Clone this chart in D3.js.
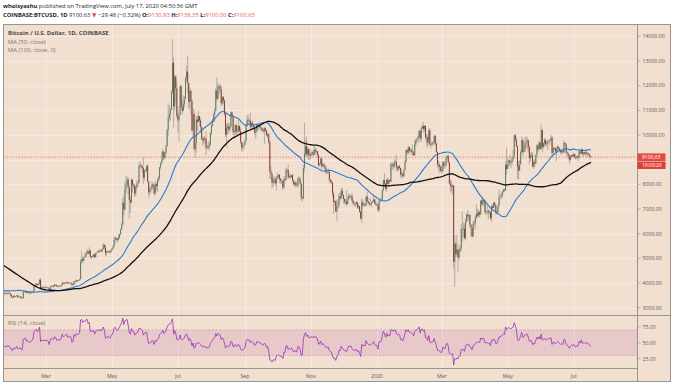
<!DOCTYPE html>
<html>
<head>
<meta charset="utf-8">
<script src="https://cdn.jsdelivr.net/npm/d3@7"></script>
<style>
  body { margin: 0; background: #fff; }
  svg { display: block; }
  text { font-family: 'Open Sans', 'DejaVu Sans', sans-serif; }
</style>
</head>
<body>
<script>
// daily closes, COINBASE BTCUSD, first value is 2018-10-13 (earlier days only feed the MAs and RSI)
const closesStart = '2018-10-13';
const closes = [
  // 2018-10 (13..31)
  6290, 6290, 6600, 6620, 6580, 6480, 6440, 6460, 6480, 6460, 6450, 6460, 6430, 6440, 6450, 6450, 6270, 6270, 6320,
  // 2018-11
  6350, 6380, 6350, 6460, 6420, 6460, 6530, 6420, 6350, 6380, 6390, 6370, 6330, 5700, 5620, 5560, 5550, 5620, 4800, 4450,
  4580, 4360, 4320, 3900, 4000, 3770, 3830, 4270, 4270, 4010,
  // 2018-12
  4200, 4140, 3850, 3950, 3760, 3500, 3400, 3410, 3570, 3450, 3400, 3490, 3260, 3200, 3190, 3240, 3550, 3690, 3780, 4130,
  3870, 4000, 3970, 4060, 3780, 3820, 3600, 3900, 3830, 3910, 3740,
  // 2019-01
  3830, 3900, 3780, 3810, 3790, 4060, 4010, 4000, 4010, 3630, 3630, 3610, 3510, 3660, 3580, 3620, 3660, 3620, 3710, 3540,
  3560, 3590, 3560, 3590, 3580, 3580, 3530, 3440, 3410, 3480, 3440,
  // 2019-02
  3460, 3500, 3420, 3430, 3450, 3390, 3380, 3640, 3650, 3680, 3600, 3620, 3600, 3580, 3600, 3620, 3660, 3890, 3910, 3970,
  3930, 3970, 4130, 3760, 3830, 3810, 3820, 3810,
  // 2019-03
  3820, 3820, 3790, 3710, 3860, 3870, 3880, 3860, 3940, 3920, 3860, 3880, 3870, 3870, 3910, 4010, 3970, 3980, 4010, 4040,
  3990, 4000, 4010, 4000, 3920, 3940, 4080, 4050, 4120, 4110, 4110,
  // 2019-04
  4150, 4880, 4970, 4900, 5040, 5050, 5200, 5290, 5190, 5320, 5050, 5080, 5080, 5160, 5040, 5210, 5240, 5290, 5280, 5330,
  5290, 5380, 5540, 5450, 5210, 5260, 5290, 5280, 5240, 5330,
  // 2019-05
  5390, 5480, 5750, 5830, 5770, 5740, 5830, 5970, 6170, 6370, 7250, 6980, 7820, 7990, 8200, 7880, 7360, 7260, 8190, 7980,
  7950, 7630, 7880, 7990, 8060, 8740, 8780, 8720, 8660, 8270, 8550,
  // 2019-06
  8550, 8740, 8120, 7670, 7790, 7800, 8000, 7930, 7630, 8020, 7920, 8170, 8230, 8690, 8850, 8980, 9330, 9080, 9270, 9530,
  10200, 10690, 10850, 11010, 11750, 12930, 11150, 12370, 11890, 10770,
  // 2019-07
  10590, 10820, 11980, 11150, 10980, 11250, 11460, 12300, 12570, 12100, 11340, 11790, 11370, 10190, 10850, 9430, 9680, 10630, 10530, 10760,
  10590, 10320, 9850, 9770, 9880, 9850, 9480, 9530, 9500, 9590, 10080,
  // 2019-08
  10400, 10530, 10820, 10980, 11800, 11470, 11980, 11980, 11850, 11280, 11550, 11390, 10860, 10020, 10300, 10360, 10220, 10320, 10920, 10760,
  10130, 10120, 10400, 10140, 10140, 10360, 10170, 9720, 9490, 9580, 9600,
  // 2019-09
  9760, 10390, 10620, 10580, 10580, 10320, 10480, 10400, 10320, 10100, 10160, 10410, 10360, 10350, 10300, 10260, 10190, 10160, 10270, 10180,
  9990, 10030, 9700, 8530, 8430, 8060, 8190, 8200, 8040, 8300,
  // 2019-10
  8330, 8390, 8230, 8150, 8140, 7870, 8210, 8180, 8590, 8580, 8280, 8330, 8300, 8370, 8160, 8000, 8080, 7960, 7960, 8230,
  8220, 8030, 7470, 7430, 8660, 9240, 9550, 9220, 9430, 9170, 9150,
  // 2019-11
  9250, 9300, 9200, 9400, 9320, 9340, 9200, 8780, 8810, 9040, 8720, 8810, 8760, 8630, 8470, 8500, 8510, 8190, 8120, 8080,
  7620, 7280, 7320, 6900, 7130, 7170, 7520, 7430, 7740, 7570,
  // 2019-12
  7410, 7300, 7300, 7200, 7390, 7540, 7510, 7530, 7340, 7230, 7210, 7200, 7260, 7070, 7110, 6890, 6620, 7280, 7150, 7190,
  7140, 7510, 7320, 7250, 7200, 7200, 7250, 7300, 7390, 7220, 7170,
  // 2020-01
  7180, 6950, 7340, 7350, 7360, 7760, 8160, 8040, 7820, 8190, 8020, 8180, 8110, 8820, 8810, 8720, 8900, 8910, 8700, 8630,
  8730, 8660, 8390, 8430, 8330, 8590, 8910, 9390, 9290, 9510, 9350,
  // 2020-02
  9380, 9330, 9290, 9180, 9620, 9770, 9810, 9910, 10170, 9860, 10270, 10360, 10240, 10370, 9900, 9920, 9700, 10190, 9600, 9610,
  9690, 9670, 9970, 9660, 9310, 8790, 8790, 8710, 8530,
  // 2020-03
  8530, 8910, 8760, 8760, 9070, 9150, 8900, 8040, 7940, 7900, 7950, 4860, 5600, 5170, 5360, 5030, 5330, 5410, 6190, 6200,
  6190, 5820, 6490, 6770, 6700, 6760, 6370, 6250, 5880, 6400, 6420,
  // 2020-04
  6650, 6810, 6740, 6870, 6780, 7340, 7200, 7370, 7300, 6870, 6890, 6920, 6860, 6860, 6630, 7110, 7040, 7260, 7130, 6840,
  6860, 7140, 7480, 7510, 7540, 7700, 7790, 7760, 8790, 8620,
  // 2020-05
  8830, 8970, 8900, 8890, 9030, 9150, 9990, 9810, 9540, 8720, 8560, 8810, 9310, 9790, 9310, 9380, 9670, 9730, 9780, 9510,
  9060, 9170, 9180, 8720, 8900, 8840, 9200, 9580, 9420, 9700, 9450,
  // 2020-06
  10200, 9520, 9670, 9790, 9620, 9670, 9750, 9780, 9780, 9890, 9270, 9470, 9480, 9330, 9430, 9520, 9460, 9380, 9300, 9360,
  9290, 9680, 9620, 9290, 9250, 9160, 9000, 9120, 9190, 9140,
  // 2020-07 (1..17)
  9230, 9090, 9060, 9130, 9080, 9340, 9250, 9430, 9230, 9290, 9240, 9300, 9240, 9250, 9190, 9130, 9100.63
];

// daily highs / lows of the visible candles, first value is 2019-01-18
const wickStart = '2019-01-18';
const highs = [
  // 2019-01 (18..31)
  3680, 3760, 3740, 3590, 3640, 3610, 3620, 3600, 3680, 3600, 3540, 3440, 3500, 3490,
  // 2019-02
  3480, 3520, 3500, 3450, 3470, 3460, 3400, 3700, 3680, 3690, 3690, 3630, 3650, 3620, 3640, 3640, 3680, 3920, 4000, 3990,
  4000, 3990, 4160, 4200, 3850, 3870, 3830, 3890,
  // 2019-03
  3860, 3840, 3830, 3800, 3880, 3910, 3910, 3920, 3960, 3950, 3930, 3890, 3900, 3930, 3920, 4050, 4020, 4040, 4020, 4060,
  4060, 4010, 4030, 4020, 4010, 3960, 4090, 4080, 4140, 4130, 4120,
  // 2019-04
  4170, 4960, 5300, 5080, 5060, 5210, 5240, 5380, 5290, 5450, 5330, 5100, 5120, 5170, 5190, 5240, 5260, 5320, 5350, 5360,
  5340, 5420, 5620, 5580, 5550, 5310, 5320, 5300, 5310, 5340,
  // 2019-05
  5420, 5530, 5890, 5880, 5840, 5840, 5990, 6000, 6200, 6450, 7450, 7550, 8100, 8320, 8330, 8280, 7950, 7500, 8260, 8100,
  8050, 8010, 7950, 8160, 8160, 8880, 8950, 8820, 8730, 9100, 8600,
  // 2019-06
  8620, 8790, 8820, 8130, 7930, 7890, 8120, 8050, 7970, 8120, 8040, 8250, 8330, 8710, 8900, 9340, 9430, 9330, 9300, 9600,
  10250, 11230, 11220, 11100, 11800, 13880, 13150, 12450, 12220, 12180,
  // 2019-07
  11170, 10900, 11990, 12060, 11430, 11610, 11580, 12360, 12800, 13200, 12100, 11920, 11830, 11450, 11080, 11020, 9980, 10760, 10800, 10990,
  10760, 10680, 10330, 9910, 9960, 9940, 10170, 9600, 9720, 9730, 10120,
  // 2019-08
  10470, 10670, 10900, 11090, 11900, 12330, 12090, 12070, 12050, 11980, 11580, 11540, 11450, 10900, 10450, 10500, 10480, 10480, 10950, 10960,
  10790, 10250, 10450, 10450, 10360, 10620, 10400, 10300, 9720, 9660, 9700,
  // 2019-09
  9810, 10460, 10790, 10820, 10640, 10900, 10550, 10580, 10470, 10390, 10270, 10450, 10450, 10420, 10360, 10380, 10290, 10290, 10330, 10300,
  10200, 10080, 10070, 9800, 8720, 8480, 8280, 8330, 8230, 8340,
  // 2019-10
  8480, 8400, 8400, 8250, 8180, 8170, 8320, 8330, 8670, 8650, 8800, 8440, 8420, 8400, 8420, 8170, 8120, 8110, 8100, 8300,
  8330, 8300, 8050, 7500, 8800, 10500, 9800, 9940, 9520, 9460, 9440,
  // 2019-11
  9280, 9380, 9380, 9600, 9480, 9460, 9370, 9220, 8880, 9120, 9070, 8870, 8850, 8800, 8690, 8530, 8640, 8520, 8220, 8200,
  8100, 7700, 7350, 7370, 7380, 7350, 7650, 7630, 7850, 7860,
  // 2019-12
  7580, 7430, 7410, 7750, 7490, 7620, 7590, 7570, 7640, 7410, 7270, 7300, 7320, 7310, 7190, 7140, 6940, 7440, 7380, 7230,
  7200, 7520, 7700, 7430, 7270, 7440, 7290, 7360, 7520, 7410, 7330,
  // 2020-01
  7250, 7210, 7400, 7400, 7500, 7780, 8210, 8460, 8050, 8200, 8290, 8190, 8200, 8880, 8900, 8860, 9000, 9000, 9190, 8740,
  8770, 8800, 8670, 8520, 8440, 8600, 8990, 9420, 9410, 9570, 9530,
  // 2020-02
  9460, 9470, 9610, 9350, 9780, 9860, 9880, 9960, 10170, 10180, 10330, 10420, 10520, 10400, 10380, 10050, 9980, 10260, 10280, 9660,
  9750, 9700, 9980, 9990, 9680, 9330, 8980, 8890, 8750,
  // 2020-03
  8770, 8950, 8930, 8840, 9140, 9190, 9200, 8900, 8190, 8150, 7990, 7980, 5950, 5670, 5960, 5380, 5560, 5450, 6380, 6900,
  6450, 6410, 6600, 6840, 6960, 6790, 6780, 6380, 6270, 6530, 6530,
  // 2020-04
  6750, 7200, 7000, 6990, 6930, 7360, 7470, 7430, 7380, 7320, 6940, 7200, 6990, 6970, 6940, 7190, 7150, 7300, 7260, 7200,
  6960, 7160, 7770, 7620, 7630, 7730, 7800, 7820, 8930, 9480,
  // 2020-05
  9070, 9000, 9190, 8950, 9100, 9400, 9990, 10050, 9920, 9580, 8950, 8980, 9400, 9940, 9850, 9600, 9890, 9950, 9900, 9830,
  9570, 9270, 9310, 9300, 8970, 9020, 9220, 9630, 9610, 9740, 9700,
  // 2020-06
  10430, 10230, 9690, 9880, 9850, 9730, 9800, 9800, 9830, 9990, 9960, 9560, 9500, 9490, 9500, 9580, 9560, 9480, 9400, 9400,
  9420, 9780, 9710, 9650, 9330, 9290, 9190, 9190, 9210, 9200,
  // 2020-07
  9290, 9250, 9130, 9190, 9140, 9360, 9360, 9460, 9440, 9310, 9300, 9350, 9350, 9280, 9290, 9210, 9138.35
];
const lows = [
  // 2019-01 (18..31)
  3590, 3610, 3520, 3500, 3520, 3540, 3540, 3550, 3560, 3480, 3400, 3370, 3400, 3430,
  // 2019-02
  3430, 3440, 3400, 3400, 3420, 3370, 3360, 3380, 3620, 3600, 3590, 3580, 3580, 3570, 3560, 3600, 3610, 3640, 3850, 3880,
  3880, 3900, 3940, 3700, 3740, 3760, 3700, 3770,
  // 2019-03
  3790, 3800, 3770, 3680, 3700, 3840, 3850, 3820, 3840, 3880, 3840, 3830, 3850, 3840, 3860, 3910, 3950, 3950, 3960, 3990,
  3960, 3970, 3980, 3980, 3860, 3900, 3930, 4020, 4030, 4060, 4090,
  // 2019-04
  4090, 4150, 4790, 4800, 4880, 5020, 5050, 5170, 5160, 5150, 5020, 4960, 5030, 5040, 5020, 5040, 5200, 5220, 5230, 5260,
  5230, 5270, 5370, 5350, 5080, 5120, 5230, 5230, 5200, 5230,
  // 2019-05
  5310, 5380, 5470, 5600, 5720, 5630, 5720, 5800, 5960, 6160, 6350, 6750, 6930, 7640, 7950, 7600, 6600, 6850, 7240, 7650,
  7820, 7500, 7520, 7800, 7900, 8050, 8640, 8630, 8450, 8000, 8140,
  // 2019-06
  8500, 8510, 8070, 7460, 7570, 7680, 7800, 7830, 7560, 7540, 7760, 7680, 8080, 8190, 8600, 8830, 9000, 8970, 9020, 9200,
  9530, 9950, 10560, 10580, 11000, 11680, 10300, 11000, 11300, 10700,
  // 2019-07
  10120, 9700, 10810, 11060, 10830, 10970, 11130, 11470, 12140, 11670, 11050, 11100, 10820, 10120, 9880, 9360, 9070, 9280, 10150, 10520,
  10350, 10080, 9800, 9550, 9620, 9670, 9190, 9400, 9420, 9380, 9600,
  // 2019-08
  9990, 10330, 10520, 10550, 10970, 11360, 11420, 11640, 11720, 11170, 11200, 11240, 10780, 9920, 9500, 10000, 10060, 10140, 10300, 10630,
  10000, 9850, 10000, 9940, 10060, 10150, 10060, 9630, 9340, 9340, 9420,
  // 2019-09
  9570, 9750, 10340, 10400, 10460, 10200, 10310, 10300, 10200, 9990, 9850, 10100, 10180, 10260, 10220, 10130, 10140, 10090, 9650, 10100,
  9940, 9880, 9620, 8220, 8230, 7840, 7900, 8010, 7950, 7750,
  // 2019-10
  8200, 8200, 8050, 8010, 8040, 7800, 7780, 8080, 8140, 8460, 8230, 8240, 8240, 8250, 8100, 7930, 7930, 7870, 7900, 7880,
  8180, 8000, 7350, 7300, 7410, 8520, 9100, 9140, 9100, 8980, 9000,
  // 2019-11
  9040, 9180, 9110, 9160, 9200, 9250, 9060, 8700, 8730, 8800, 8620, 8700, 8700, 8560, 8420, 8400, 8460, 8050, 8040, 8000,
  7470, 6800, 7150, 6870, 6520, 7010, 7040, 7350, 7420, 7530,
  // 2019-12
  7220, 7180, 7210, 7100, 7180, 7380, 7470, 7400, 7280, 7160, 7120, 7070, 7230, 7000, 7000, 6850, 6560, 6430, 7070, 7120,
  7090, 7140, 7260, 7180, 7120, 7140, 7090, 7250, 7300, 7200, 7130,
  // 2020-01
  7140, 6900, 6880, 7260, 7300, 7340, 7720, 7880, 7750, 7700, 8000, 7960, 8060, 8100, 8600, 8570, 8650, 8800, 8540, 8500,
  8560, 8580, 8290, 8240, 8270, 8300, 8560, 8880, 9220, 9210, 9250,
  // 2020-02
  9300, 9200, 9170, 9150, 9160, 9550, 9710, 9680, 9870, 9730, 9730, 10260, 10100, 10120, 9770, 9540, 9490, 9640, 9580, 9450,
  9560, 9580, 9660, 9550, 9270, 8680, 8550, 8460, 8520,
  // 2020-03
  8420, 8500, 8640, 8650, 8760, 9000, 8850, 8000, 7650, 7730, 7580, 4600, 3850, 5050, 5100, 4450, 4930, 5260, 5260, 5700,
  5850, 5780, 5720, 6450, 6520, 6530, 6250, 5880, 5860, 5880, 6320,
  // 2020-04
  6170, 6580, 6660, 6670, 6670, 6780, 7120, 7130, 7110, 6760, 6780, 6780, 6580, 6780, 6570, 6480, 6950, 7030, 7070, 6780,
  6780, 6830, 7100, 7420, 7420, 7460, 7670, 7700, 7730, 8400,
  // 2020-05
  8620, 8750, 8720, 8650, 8770, 8940, 9050, 9700, 9520, 8200, 8200, 8550, 8800, 9250, 9150, 9290, 9310, 9480, 9420, 9280,
  8810, 8940, 9070, 8690, 8630, 8700, 8810, 9100, 9300, 9350, 9400,
  // 2020-06
  9420, 9300, 9430, 9520, 9580, 9530, 9390, 9650, 9580, 9730, 9090, 9220, 9380, 9250, 8920, 9350, 9360, 9290, 9210, 9210,
  9270, 9280, 9580, 9230, 9100, 9040, 8850, 8950, 9080, 9090,
  // 2020-07
  9090, 9050, 9000, 9050, 8930, 9060, 9210, 9240, 9150, 9130, 9200, 9140, 9200, 9090, 9160, 9010, 9100
];

const lastPrice = 9100.63;
const priceTicks = [3000, 4000, 5000, 6000, 7000, 8000, 9000, 10000, 11000, 12000, 13000, 14000];
const rsiTicks = [25, 50, 75];
const monthTicks = ['2019-03-01', '2019-05-01', '2019-07-01', '2019-09-01', '2019-11-01',
                    '2020-01-01', '2020-03-01', '2020-05-01', '2020-07-01'];
const monthLabels = ['Mar', 'May', 'Jul', 'Sep', 'Nov', '2020', 'Mar', 'May', 'Jul'];

const W = 673, H = 385;
const L = 3.5, R = 637.5, AX = 670.5;      // plot left, plot right, axis right
const T = 24.5, MID = 315.5, RB = 368.5, B = 381.5;

const bg = '#f1dfcf', grid = '#f6e9dd', border = '#9a9590';
const upCol = '#4e7f57', downCol = '#86302c', wickCol = '#a69d96';

const parse = d3.utcParse('%Y-%m-%d');
const t0 = parse(closesStart);
const days = closes.map((_, i) => d3.utcDay.offset(t0, i));

const x = d3.scaleUtc()
  .domain([parse('2019-03-01'), parse('2020-07-01')])
  .range([46, 573.7]);
const y = d3.scaleLinear().domain([3000, 14000]).range([307.7, 36.3]);
const yr = d3.scaleLinear().domain([25, 75]).range([358.7, 326.7]);

function sma(values, n) {
  return values.map((_, i) => (i < n - 1 ? null : d3.mean(values.slice(i - n + 1, i + 1))));
}

// Wilder RSI
function rsi(values, n) {
  const out = values.map(() => null);
  let up = 0, dn = 0;
  for (let i = 1; i < values.length; i++) {
    const ch = values[i] - values[i - 1];
    const g = Math.max(ch, 0), l = Math.max(-ch, 0);
    if (i <= n) {
      up += g / n; dn += l / n;
      if (i < n) continue;
    } else {
      up = (up * (n - 1) + g) / n;
      dn = (dn * (n - 1) + l) / n;
    }
    out[i] = dn === 0 ? 100 : 100 - 100 / (1 + up / dn);
  }
  return out;
}

const ma50 = sma(closes, 50);
const ma100 = sma(closes, 100);
const rsi14 = rsi(closes, 14);

const w0 = d3.utcDay.count(t0, parse(wickStart));
const candles = highs.map((h, j) => {
  const i = w0 + j;
  const o = closes[i - 1], c = closes[i];
  return { date: days[i], o, c, h: Math.max(h, o, c), l: Math.min(lows[j], o, c) };
});

const svg = d3.select('body').append('svg').attr('width', W).attr('height', H);

svg.append('rect').attr('width', W).attr('height', H).attr('fill', '#fff');
svg.append('rect').attr('x', L).attr('y', T).attr('width', AX - L).attr('height', B - T).attr('fill', bg);

const defs = svg.append('defs');
defs.append('clipPath').attr('id', 'clipMain')
  .append('rect').attr('x', L).attr('y', T).attr('width', R - L).attr('height', MID - T);
defs.append('clipPath').attr('id', 'clipRsi')
  .append('rect').attr('x', L).attr('y', MID).attr('width', R - L).attr('height', RB - MID);

// grid
const gGrid = svg.append('g').attr('stroke', grid).attr('stroke-width', 1);
gGrid.selectAll('line.v').data(monthTicks).join('line')
  .attr('x1', (d) => Math.round(x(parse(d))) + 0.5)
  .attr('x2', (d) => Math.round(x(parse(d))) + 0.5)
  .attr('y1', T).attr('y2', RB);
gGrid.selectAll('line.h').data(priceTicks).join('line')
  .attr('x1', L).attr('x2', R)
  .attr('y1', (d) => Math.round(y(d)) + 0.5)
  .attr('y2', (d) => Math.round(y(d)) + 0.5);

// RSI band
const gRsi = svg.append('g').attr('clip-path', 'url(#clipRsi)');
gRsi.append('rect')
  .attr('x', L).attr('width', R - L)
  .attr('y', yr(70)).attr('height', yr(30) - yr(70))
  .attr('fill', '#c77dbb').attr('fill-opacity', 0.22);
gRsi.selectAll('line.band').data([70, 30]).join('line')
  .attr('x1', L).attr('x2', R)
  .attr('y1', (d) => yr(d)).attr('y2', (d) => yr(d))
  .attr('stroke', '#b88fb6').attr('stroke-width', 0.6).attr('stroke-dasharray', '2,2');
gRsi.append('line')
  .attr('x1', L).attr('x2', R).attr('y1', yr(50)).attr('y2', yr(50))
  .attr('stroke', '#e6c4d8').attr('stroke-width', 0.6);

const rsiRows = days.map((d, i) => ({ d, v: rsi14[i] })).filter((r) => r.v !== null);
gRsi.append('path')
  .datum(rsiRows)
  .attr('fill', 'none').attr('stroke', '#9a30b8').attr('stroke-width', 0.8)
  .attr('d', d3.line().x((r) => x(r.d)).y((r) => yr(r.v)));

// main pane
const gMain = svg.append('g').attr('clip-path', 'url(#clipMain)');

gMain.append('line')
  .attr('x1', L).attr('x2', R)
  .attr('y1', y(lastPrice)).attr('y2', y(lastPrice))
  .attr('stroke', '#e0685f').attr('stroke-width', 0.7).attr('stroke-dasharray', '1.5,1.5');

gMain.selectAll('line.wick').data(candles).join('line')
  .attr('x1', (d) => x(d.date)).attr('x2', (d) => x(d.date))
  .attr('y1', (d) => y(d.h)).attr('y2', (d) => y(d.l))
  .attr('stroke', wickCol).attr('stroke-width', 0.8);

gMain.selectAll('rect.body').data(candles).join('rect')
  .attr('x', (d) => x(d.date) - 0.45)
  .attr('width', 0.9)
  .attr('y', (d) => y(Math.max(d.o, d.c)))
  .attr('height', (d) => Math.max(0.6, Math.abs(y(d.o) - y(d.c))))
  .attr('fill', (d) => (d.c >= d.o ? upCol : downCol));

const maLine = (arr) => d3.line()
  .defined((_, i) => arr[i] !== null)
  .x((_, i) => x(days[i]))
  .y((_, i) => y(arr[i]));

gMain.append('path').datum(closes)
  .attr('fill', 'none').attr('stroke', '#2a7bd0').attr('stroke-width', 1.1)
  .attr('d', maLine(ma50));
gMain.append('path').datum(closes)
  .attr('fill', 'none').attr('stroke', '#111').attr('stroke-width', 1.3)
  .attr('d', maLine(ma100));

// frame and separators
const gFrame = svg.append('g').attr('stroke', border).attr('stroke-width', 1).attr('fill', 'none');
gFrame.append('rect').attr('x', L).attr('y', T).attr('width', AX - L).attr('height', B - T);
gFrame.append('line').attr('x1', R).attr('x2', R).attr('y1', T).attr('y2', B);
gFrame.append('line').attr('x1', L).attr('x2', AX).attr('y1', MID).attr('y2', MID);
gFrame.append('line').attr('x1', L).attr('x2', R).attr('y1', RB).attr('y2', RB);

// right axis (the tick under the last-price tag stays hidden, as on the site)
const axisText = '#5a5a5a';
const tagTop = y(lastPrice) - 4, tagBottom = y(lastPrice) + 12;
const shownTicks = priceTicks.filter((d) => y(d) < tagTop - 2 || y(d) > tagBottom + 2);
const gY = svg.append('g');
gY.selectAll('line').data(priceTicks).join('line')
  .attr('x1', R).attr('x2', R + 3)
  .attr('y1', (d) => y(d)).attr('y2', (d) => y(d))
  .attr('stroke', border).attr('stroke-width', 0.6);
gY.selectAll('text').data(shownTicks).join('text')
  .attr('x', R + 5).attr('y', (d) => y(d)).attr('dy', '0.35em')
  .attr('font-size', 5.2).attr('fill', axisText)
  .text((d) => d3.format('.2f')(d));

const gYr = svg.append('g');
gYr.selectAll('line').data(rsiTicks).join('line')
  .attr('x1', R).attr('x2', R + 3)
  .attr('y1', (d) => yr(d)).attr('y2', (d) => yr(d))
  .attr('stroke', border).attr('stroke-width', 0.6);
gYr.selectAll('text').data(rsiTicks).join('text')
  .attr('x', R + 5).attr('y', (d) => yr(d)).attr('dy', '0.35em')
  .attr('font-size', 5.2).attr('fill', axisText)
  .text((d) => d3.format('.2f')(d));

// bottom axis
svg.append('g').selectAll('text').data(monthTicks).join('text')
  .attr('x', (d) => x(parse(d))).attr('y', 376).attr('dy', '0.35em')
  .attr('text-anchor', 'middle').attr('font-size', 5.2).attr('fill', axisText)
  .text((_, i) => monthLabels[i]);

// last price tag
const tag = svg.append('g');
tag.append('rect').attr('x', R).attr('y', y(lastPrice) - 3.8).attr('width', 28).attr('height', 7.6).attr('fill', '#e5493f');
tag.append('rect').attr('x', R).attr('y', y(lastPrice) + 4.4).attr('width', 28).attr('height', 7.4).attr('fill', '#dc3f36');
tag.append('text').attr('x', R + 4.5).attr('y', y(lastPrice)).attr('dy', '0.35em')
  .attr('font-size', 5).attr('fill', '#fff').text(d3.format('.2f')(lastPrice));
tag.append('text').attr('x', R + 4.5).attr('y', y(lastPrice) + 8.1).attr('dy', '0.35em')
  .attr('font-size', 5).attr('fill', '#fff').text('19:09:26');

// header
const h1 = svg.append('text').attr('x', 3).attr('y', 8).attr('font-size', 5.8).attr('fill', '#222');
h1.append('tspan').attr('font-weight', 'bold').text('whoisyashu');
h1.append('tspan').text(' published on TradingView.com, July 17, 2020 04:50:36 GMT');

const red = '#e8504a';
const h2 = svg.append('text').attr('x', 3).attr('y', 17).attr('font-size', 5.8).attr('fill', '#222');
h2.append('tspan').attr('font-weight', 'bold').text('COINBASE:BTCUSD, 1D');
h2.append('tspan').text(' 9100.63 ');
h2.append('tspan').attr('fill', red).text('▼');
h2.append('tspan').text(' −29.48 (−0.32%) ');
[['O:', '9130.93'], ['H:', '9138.35'], ['L:', '9100.00'], ['C:', '9100.63']].forEach(([k, v], i) => {
  h2.append('tspan').attr('font-weight', 'bold').text((i ? ' ' : '') + k);
  h2.append('tspan').attr('fill', red).text(v);
});

// legends
svg.append('text').attr('x', 8).attr('y', 34.5).attr('font-size', 5.9).attr('font-weight', 'bold')
  .attr('fill', '#4a4a4a').text('Bitcoin / U.S. Dollar, 1D, COINBASE');
svg.append('text').attr('x', 8).attr('y', 43.5).attr('font-size', 5.9)
  .attr('fill', '#777').text('MA (50, close)');
svg.append('text').attr('x', 8).attr('y', 52).attr('font-size', 5.9)
  .attr('fill', '#777').text('MA (100, close, 0)');
svg.append('text').attr('x', 8).attr('y', 325).attr('font-size', 5.9)
  .attr('fill', '#777').text('RSI (14, close)');
</script>
</body>
</html>
